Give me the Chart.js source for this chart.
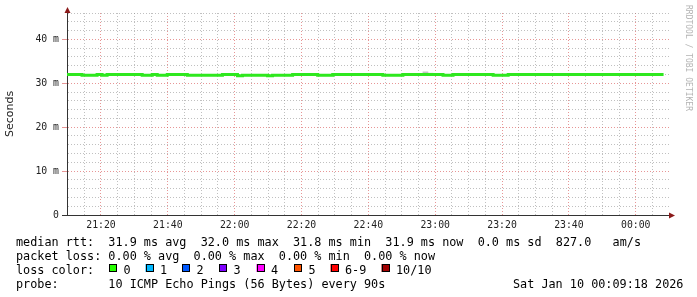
<!DOCTYPE html>
<html>
<head>
<meta charset="utf-8">
<script src="https://cdn.jsdelivr.net/npm/chart.js@4.4.1/dist/chart.umd.min.js"></script>
<style>
  html, body { margin: 0; padding: 0; background: #fff; }
  canvas { display: block; }
</style>
</head>
<body>
<canvas id="mycanvas" width="697" height="297"></canvas>
<script>
// time axis: minutes after 21:00, one sample every 90 s
var startMin = 9.83;
var endMin = 190.25;
var stepMin = 1.5;

// median rtt in ms
var medianRtt = [
	32.0, 32.0, 32.0, 32.0, 31.8, 31.8, 31.8, 32.0, 31.8, 32.0,
	32.0, 32.0, 32.0, 32.0, 32.0, 32.0, 31.8, 31.8, 32.0, 31.8,
	31.8, 32.0, 32.0, 32.0, 32.0, 31.8, 31.8, 31.8, 31.8, 31.8,
	31.8, 31.8, 32.0, 32.0, 32.0, 31.7, 31.8, 31.8, 31.8, 31.8,
	31.8, 31.7, 31.8, 31.8, 31.8, 31.8, 32.0, 32.0, 32.0, 32.0,
	32.0, 31.8, 31.8, 31.8, 32.0, 32.0, 32.0, 32.0, 32.0, 32.0,
	32.0, 32.0, 32.0, 32.0, 31.8, 31.8, 31.8, 31.8, 32.0, 32.0,
	32.0, 32.0, 32.0, 32.0, 32.0, 32.0, 31.8, 31.8, 32.0, 32.0,
	32.0, 32.0, 32.0, 32.0, 32.0, 32.0, 31.8, 31.8, 31.8, 32.0,
	32.0, 32.0, 32.0, 32.0, 32.0, 32.0, 32.0, 32.0, 32.0, 32.0,
	32.0, 32.0, 32.0, 32.0, 32.0, 32.0, 32.0, 32.0, 32.0, 32.0,
	32.0, 32.0, 32.0, 32.0, 32.0, 32.0, 32.0, 32.0, 32.0, 32.0
];

// the little bit of smoke that shows above the median
var smokeIndex = [71, 72];
var smokeLow = [32.0, 32.0];
var smokeHigh = [32.6, 32.3];

var yTicks = [0, 10, 20, 30, 40];
var lossLabels = ['0', '1', '2', '3', '4', '5', '6-9', '10/10'];
var lossColors = ['#26ff00', '#00b8ff', '#0059ff', '#7e00ff', '#ff00ff', '#ff5500', '#ff0000', '#a10000'];

var legendLines = [
	'median rtt:  31.9 ms avg  32.0 ms max  31.8 ms min  31.9 ms now  0.0 ms sd  827.0   am/s',
	'packet loss: 0.00 % avg  0.00 % max  0.00 % min  0.00 % now',
	'loss color:',
	'probe:       10 ICMP Echo Pings (56 Bytes) every 90s'
];
var stampText = 'Sat Jan 10 00:09:18 2026';

var mono = "'DejaVu Sans Mono', 'Liberation Mono', monospace";
var minorGrid = 'rgba(140,140,140,0.55)';
var majorGrid = 'rgba(215,80,80,0.6)';
var axisColor = '#333';
var arrowColor = '#8b1a1a';

var lineData = [];
for (var i in medianRtt) {
	lineData.push({x: startMin + i * stepMin, y: medianRtt[i]});
}
var smokeData = [];
for (var j in smokeIndex) {
	smokeData.push({x: startMin + smokeIndex[j] * stepMin + stepMin / 2, y: [smokeLow[j], smokeHigh[j]]});
}

function hhmm(m) {
	var total = Math.round(21 * 60 + m) % (24 * 60);
	var h = Math.floor(total / 60), mm = total % 60;
	return (h < 10 ? '0' : '') + h + ':' + (mm < 10 ? '0' : '') + mm;
}

var extras = {
	id: 'extras',
	afterDraw: function(chart) {
		var ctx = chart.ctx;
		var a = chart.chartArea;
		ctx.save();

		// axis extensions and arrows
		ctx.strokeStyle = axisColor;
		ctx.lineWidth = 1;
		ctx.beginPath();
		ctx.moveTo(a.left + 0.5, a.top);
		ctx.lineTo(a.left + 0.5, 10);
		ctx.moveTo(62, a.bottom + 0.5);
		ctx.lineTo(a.left, a.bottom + 0.5);
		ctx.moveTo(a.right, a.bottom + 0.5);
		ctx.lineTo(671, a.bottom + 0.5);
		ctx.stroke();
		ctx.fillStyle = arrowColor;
		ctx.beginPath();
		ctx.moveTo(a.left + 0.5, 7);
		ctx.lineTo(a.left - 2.5, 13);
		ctx.lineTo(a.left + 3.5, 13);
		ctx.closePath();
		ctx.fill();
		ctx.beginPath();
		ctx.moveTo(675, a.bottom + 0.5);
		ctx.lineTo(669, a.bottom - 2.5);
		ctx.lineTo(669, a.bottom + 3.5);
		ctx.closePath();
		ctx.fill();

		// watermark
		ctx.save();
		ctx.translate(688, 5);
		ctx.rotate(Math.PI / 2);
		ctx.font = '8px ' + mono;
		ctx.fillStyle = '#b4b4b4';
		ctx.textBaseline = 'middle';
		ctx.fillText('RRDTOOL / TOBI OETIKER', 0, 0);
		ctx.restore();

		// legend block
		ctx.font = '11.8px ' + mono;
		ctx.fillStyle = '#000';
		ctx.textBaseline = 'alphabetic';
		var base = [246, 260, 274, 288];
		for (var k = 0; k < legendLines.length; k++) {
			ctx.fillText(legendLines[k], 16, base[k]);
		}
		ctx.fillText(stampText, 513, base[3]);
		var boxX = [109, 145.5, 182, 219, 256.5, 294, 330.5, 381.5];
		for (var b = 0; b < lossLabels.length; b++) {
			ctx.fillStyle = lossColors[b];
			ctx.fillRect(boxX[b], 264, 8, 8);
			ctx.strokeStyle = '#000';
			ctx.strokeRect(Math.round(boxX[b]) + 0.5, 264.5, 7, 7);
			ctx.fillStyle = '#000';
			ctx.fillText(lossLabels[b], boxX[b] + 14.5, base[2]);
		}
		ctx.restore();
	}
};

var ctx = document.getElementById('mycanvas');
var chart = new Chart(ctx, {
	type: 'line',
	data: {
		datasets: [
			{
				type: 'bar',
				label: 'smoke',
				data: smokeData,
				backgroundColor: 'rgba(195,195,195,1)',
				borderWidth: 0,
				barThickness: 5,
				grouped: false,
				order: 2
			},
			{
				label: 'median rtt',
				data: lineData,
				borderColor: '#2ee81e',
				borderWidth: 3,
				stepped: 'after',
				pointRadius: 0,
				fill: false,
				order: 1
			}
		]
	},
	options: {
		responsive: false,
		animation: false,
		devicePixelRatio: 1,
		layout: { padding: { left: 0, right: 27, top: 13, bottom: 0 } },
		plugins: { legend: { display: false }, tooltip: { enabled: false } },
		scales: {
			x: {
				type: 'linear',
				offset: false,
				min: startMin,
				max: endMin,
				afterFit: function(s) { s.height = 82; },
				afterBuildTicks: function(s) {
					var t = [];
					for (var m = 10; m <= 185; m += 5) t.push({value: m});
					s.ticks = t;
				},
				grid: {
					drawTicks: false,
					offset: false,
					lineWidth: 1,
					color: function(c) {
						return c.tick && c.tick.value % 20 === 0 ? majorGrid : minorGrid;
					}
				},
				border: { display: true, color: axisColor, dash: [1, 2] },
				ticks: {
					autoSkip: false,
					maxRotation: 0,
					padding: 5,
					color: '#222',
					font: { family: mono, size: 9.8 },
					callback: function(v) { return v % 20 === 0 ? hhmm(v) : ''; }
				}
			},
			y: {
				min: 0,
				max: 46,
				afterFit: function(s) { s.width = 67; },
				afterBuildTicks: function(s) {
					var t = [];
					for (var v = 0; v <= 46; v += 2) t.push({value: v});
					s.ticks = t;
				},
				grid: {
					tickLength: 5,
					color: function(c) {
						if (c.tick && c.tick.value === 0) return 'rgba(0,0,0,0)';
						return c.tick && yTicks.indexOf(c.tick.value) >= 0 ? majorGrid : minorGrid;
					},
					tickColor: function(c) {
						if (!c.tick) return 'rgba(0,0,0,0)';
						if (c.tick.value === 0) return axisColor;
						return yTicks.indexOf(c.tick.value) >= 0 ? majorGrid : 'rgba(0,0,0,0)';
					}
				},
				border: { display: true, color: axisColor, dash: [1, 2] },
				title: {
					display: true,
					text: 'Seconds',
					color: '#222',
					padding: { top: 4, bottom: 0 },
					font: { family: "'DejaVu Sans', sans-serif", size: 11 }
				},
				ticks: {
					autoSkip: false,
					padding: 3,
					color: '#222',
					font: { family: mono, size: 9.8 },
					callback: function(v) {
						if (v === 0) return '0';
						return yTicks.indexOf(v) >= 0 ? v + ' m' : '';
					}
				}
			}
		}
	},
	plugins: [extras]
});
</script>
</body>
</html>
